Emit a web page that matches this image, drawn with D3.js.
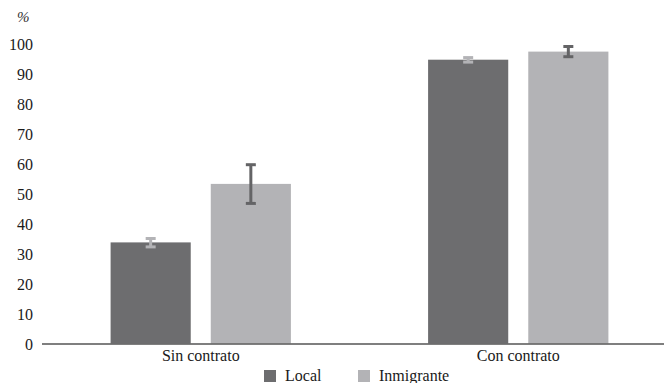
<!DOCTYPE html>
<html>
<head>
<meta charset="utf-8">
<script src="https://cdn.jsdelivr.net/npm/d3@7"></script>
<style>
  html, body { margin: 0; padding: 0; background: #fff; }
  svg { display: block; }
</style>
</head>
<body>
<svg id="chart" width="664" height="383"></svg>
<script>
// Categories and series
const categories = ["Sin contrato", "Con contrato"];
const series = ["Local", "Inmigrante"];

// Percentages per series (same order as categories)
const localValues = [33.7, 94.6];
const inmigranteValues = [53.2, 97.3];

// Confidence interval bounds per series
const localLow = [32.2, 93.8];
const localHigh = [35.0, 95.3];
const inmigranteLow = [46.7, 95.6];
const inmigranteHigh = [59.6, 99.0];

const yTicks = [0, 10, 20, 30, 40, 50, 60, 70, 80, 90, 100];

const FONT = '"Liberation Serif", "DejaVu Serif", serif';
const FS = "16px";

const colors = { "Local": "#6d6d6f", "Inmigrante": "#b3b3b6" };
// Error bars use the contrasting tone of the other series
const errColors = { "Local": "#b3b3b6", "Inmigrante": "#646466" };

const rows = categories.map((c, i) => ({
  category: c,
  bars: [
    { key: "Local", value: localValues[i], lo: localLow[i], hi: localHigh[i] },
    { key: "Inmigrante", value: inmigranteValues[i], lo: inmigranteLow[i], hi: inmigranteHigh[i] }
  ]
}));

const svg = d3.select("#chart");
const baseY = 343.5, topY = 43.5;
const left = 42, right = 677;

const y = d3.scaleLinear().domain([0, 100]).range([baseY, topY]);
const x0 = d3.scaleBand().domain(categories).range([left, right])
  .paddingInner(0.369).paddingOuter(0.1845);
const x1 = d3.scaleBand().domain(series).range([0, x0.bandwidth()])
  .paddingInner(0.2).paddingOuter(0.1);

// Y axis labels (no axis line)
const yAxis = d3.axisLeft(y).tickValues(yTicks).tickSize(0).tickPadding(0);
const gy = svg.append("g").attr("transform", `translate(33,0)`).call(yAxis);
gy.select(".domain").remove();
gy.selectAll("text")
  .style("font-family", FONT).style("font-size", FS)
  .attr("fill", "#1a1a1a").attr("dy", "0.36em");

svg.append("text").attr("x", 17).attr("y", 22)
  .style("font-family", FONT).style("font-size", "15px").style("font-style", "italic")
  .attr("fill", "#333").text("%");

// Bars
const groups = svg.append("g").selectAll("g").data(rows).join("g")
  .attr("transform", d => `translate(${x0(d.category)},0)`);

groups.selectAll("rect").data(d => d.bars).join("rect")
  .attr("x", d => x1(d.key))
  .attr("width", x1.bandwidth())
  .attr("y", d => y(d.value))
  .attr("height", d => baseY - y(d.value))
  .attr("fill", d => colors[d.key]);

// Error bars
const eb = groups.selectAll("g.err").data(d => d.bars).join("g").attr("class", "err");
const capW = 5;
eb.append("line")
  .attr("x1", d => x1(d.key) + x1.bandwidth() / 2)
  .attr("x2", d => x1(d.key) + x1.bandwidth() / 2)
  .attr("y1", d => y(d.hi)).attr("y2", d => y(d.lo))
  .attr("stroke", d => errColors[d.key]).attr("stroke-width", 3);
eb.selectAll("line.cap").data(d => [{ d, v: d.hi }, { d, v: d.lo }]).join("line")
  .attr("class", "cap")
  .attr("x1", o => x1(o.d.key) + x1.bandwidth() / 2 - capW)
  .attr("x2", o => x1(o.d.key) + x1.bandwidth() / 2 + capW)
  .attr("y1", o => y(o.v)).attr("y2", o => y(o.v))
  .attr("stroke", o => errColors[o.d.key]).attr("stroke-width", 3);

// Baseline
svg.append("line").attr("x1", left).attr("x2", 664)
  .attr("y1", baseY + 0.5).attr("y2", baseY + 0.5)
  .attr("stroke", "#555").attr("stroke-width", 1.5);

// Category labels
const xAxis = d3.axisBottom(x0).tickSize(0).tickPadding(0);
const gx = svg.append("g").attr("transform", `translate(0,${baseY + 17.5})`).call(xAxis);
gx.select(".domain").remove();
gx.selectAll("text")
  .style("font-family", FONT).style("font-size", FS)
  .attr("fill", "#1a1a1a").attr("dy", 0);

// Legend
const legendX = [264, 358];
const legend = svg.append("g").selectAll("g").data(series).join("g")
  .attr("transform", (d, i) => `translate(${legendX[i]},370)`);
legend.append("rect").attr("width", 12).attr("height", 12).attr("fill", d => colors[d]);
legend.append("text").attr("x", 21).attr("y", 10.5)
  .style("font-family", FONT).style("font-size", FS)
  .attr("fill", "#1a1a1a").text(d => d);
</script>
</body>
</html>
